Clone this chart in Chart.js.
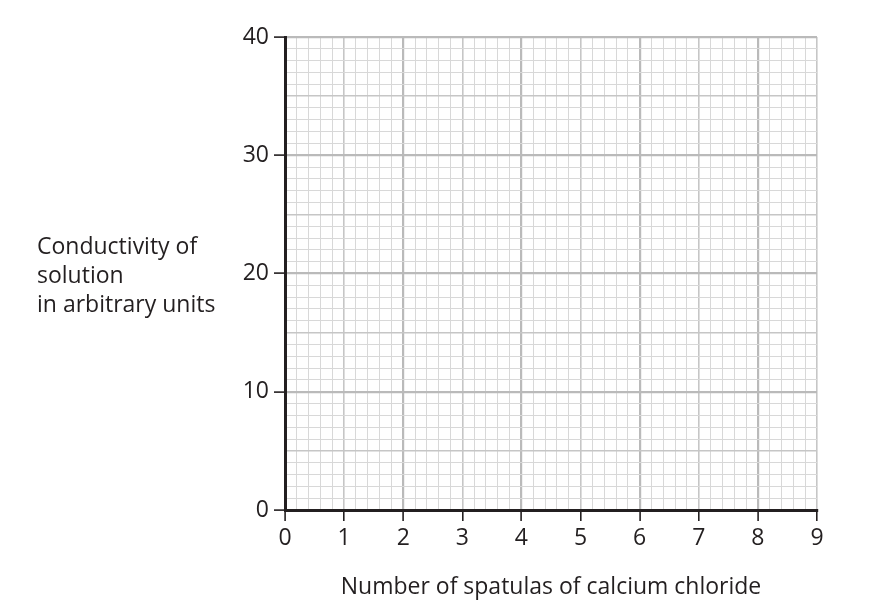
<!DOCTYPE html>
<html>
<head>
    <title>Conductivity of solution</title>
    <style>
        body { margin: 0; background: #fff; }
        #wrap { position: relative; width: 886px; height: 614px; }
        #yTitle {
            position: absolute;
            left: 37px;
            top: 231px;
            font-family: "Open Sans", sans-serif;
            font-size: 23px;
            line-height: 29px;
            color: #231f20;
        }
    </style>
</head>
<body>
    <div id="wrap">
        <canvas id="graph" width="886" height="614"></canvas>
        <div id="yTitle">Conductivity of<br>solution<br>in arbitrary units</div>
    </div>
    <script src="https://cdn.jsdelivr.net/npm/chart.js"></script>
    <script>
        // axis ranges and labelled ticks
        const xMin = 0, xMax = 9, xMinorStep = 0.2;
        const yMin = 0, yMax = 40, yMinorStep = 1;
        const xTickLabels = [0, 1, 2, 3, 4, 5, 6, 7, 8, 9];
        const yTickLabels = [0, 10, 20, 30, 40];
        // no points plotted yet - blank graph paper
        const conductivity = [];

        const ink = '#231f20';
        const fontFamily = '"Open Sans", sans-serif';

        // minor index: x every 0.2, y every 1 -> 5 minor = medium, 10 minor = heavy
        function gridLevel(value, step) {
            const n = Math.round(value / step);
            if (n % 10 === 0) return 2;
            if (n % 5 === 0) return 1;
            return 0;
        }

        function isLabelled(value, step) {
            const list = step === xMinorStep ? xTickLabels : yTickLabels;
            return list.some(v => Math.abs(v - value) < 1e-6);
        }

        function gridStyle(step) {
            return {
                color: ctx => ['#d8d8d8', '#c6c6c6', '#bababa'][gridLevel(ctx.tick.value, step)],
                lineWidth: ctx => [1, 1.6, 2.2][gridLevel(ctx.tick.value, step)],
                tickColor: ctx => isLabelled(ctx.tick.value, step) ? ink : 'rgba(0,0,0,0)',
                tickWidth: 1.6,
                tickLength: 11,
                drawTicks: true
            };
        }

        new Chart(document.getElementById('graph'), {
            type: 'scatter',
            data: {
                datasets: [{
                    label: 'Conductivity',
                    data: conductivity,
                    borderColor: ink,
                    backgroundColor: ink
                }]
            },
            options: {
                responsive: false,
                animation: false,
                layout: { padding: { top: 37, right: 69, left: 0, bottom: 0 } },
                plugins: { legend: { display: false }, tooltip: { enabled: false } },
                scales: {
                    x: {
                        type: 'linear',
                        min: xMin,
                        max: xMax,
                        grid: gridStyle(xMinorStep),
                        border: { display: true, color: ink, width: 3 },
                        ticks: {
                            stepSize: xMinorStep,
                            autoSkip: false,
                            maxRotation: 0,
                            padding: 4,
                            color: ink,
                            font: { family: fontFamily, size: 23 },
                            callback: v => isLabelled(v, xMinorStep) ? String(Math.round(v)) : ''
                        },
                        title: {
                            display: true,
                            text: 'Number of spatulas of calcium chloride',
                            color: ink,
                            font: { family: fontFamily, size: 23 },
                            padding: { top: 0, bottom: 13 }
                        },
                        afterFit: scale => { scale.height = 104; }
                    },
                    y: {
                        type: 'linear',
                        min: yMin,
                        max: yMax,
                        grid: gridStyle(yMinorStep),
                        border: { display: true, color: ink, width: 3 },
                        ticks: {
                            stepSize: yMinorStep,
                            autoSkip: false,
                            padding: 5,
                            color: ink,
                            font: { family: fontFamily, size: 23 },
                            callback: v => isLabelled(v, yMinorStep) ? String(Math.round(v)) : ''
                        },
                        afterFit: scale => { scale.width = 285; }
                    }
                }
            }
        });
    </script>
</body>
</html>
